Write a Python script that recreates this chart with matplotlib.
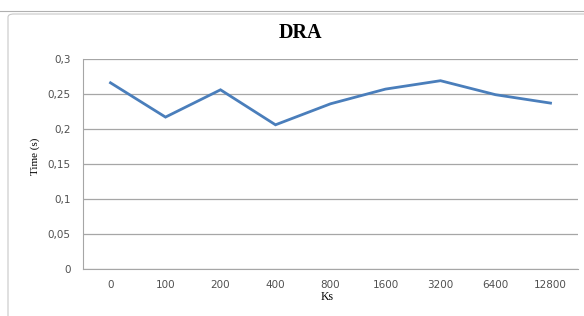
import matplotlib
matplotlib.use('Agg')
import matplotlib.pyplot as plt
from matplotlib.patches import FancyBboxPatch

# data
ks_labels = ['0', '100', '200', '400', '800', '1600', '3200', '6400', '12800']
times = [0.266, 0.217, 0.256, 0.206, 0.236, 0.257, 0.269, 0.249, 0.237]
y_ticks = [0, 0.05, 0.1, 0.15, 0.2, 0.25, 0.3]
y_tick_labels = ['0', '0,05', '0,1', '0,15', '0,2', '0,25', '0,3']

fig = plt.figure(figsize=(5.84, 3.16), dpi=100)
fig.patch.set_facecolor('white')

# outer chart frame
frame = FancyBboxPatch((8 / 584, -0.02), 1.0, 1 - 14 / 316 + 0.02,
                       boxstyle='round,pad=0,rounding_size=0.01',
                       transform=fig.transFigure, fill=False,
                       edgecolor='#c8c8c8', linewidth=0.8)
fig.patches.append(frame)
fig.add_artist(plt.Line2D([0, 1], [1 - 11 / 316] * 2, transform=fig.transFigure,
                          color='#b0b0b0', linewidth=0.8))

ax = fig.add_axes([83 / 584, 1 - 269 / 316, 495 / 584, 210 / 316])
x = list(range(len(ks_labels)))
ax.plot(x, times, color='#4a7ebb', linewidth=2.0, solid_joinstyle='miter', zorder=3)

ax.set_xlim(-0.5, len(ks_labels) - 0.5)
ax.set_ylim(0, 0.3)
ax.set_yticks(y_ticks)
ax.set_yticklabels(y_tick_labels)
ax.set_xticks(x)
ax.set_xticklabels(ks_labels)
ax.tick_params(length=0, labelsize=7.5, colors='#505050')
ax.tick_params(axis='y', pad=9)
ax.tick_params(axis='x', pad=8)
for lab in ax.get_xticklabels() + ax.get_yticklabels():
    lab.set_family('DejaVu Sans')

ax.grid(axis='y', color='#a6a6a6', linewidth=0.9)
ax.set_axisbelow(True)
for side in ['top', 'right']:
    ax.spines[side].set_visible(False)
ax.spines['left'].set_color('#a6a6a6')
ax.spines['bottom'].set_color('#a6a6a6')

fig.text(300 / 584, 1 - 33 / 316, 'DRA', ha='center', va='center',
         fontsize=14.5, fontweight='bold', family='Liberation Serif')
fig.text(35 / 584, 1 - 156 / 316, 'Time (s)', ha='center', va='center',
         rotation=90, fontsize=8, family='Liberation Serif')
fig.text(327 / 584, 1 - 297 / 316, 'Ks', ha='center', va='center',
         fontsize=8.5, family='Liberation Serif')

fig.savefig('out.png', dpi=100)
